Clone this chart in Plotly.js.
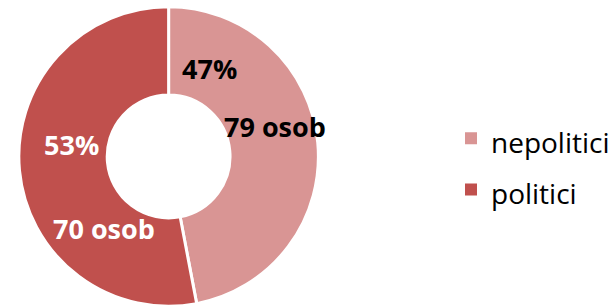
<!DOCTYPE html>
<html><head><meta charset="utf-8">
<script src="https://cdn.plot.ly/plotly-3.0.1.min.js"></script>
<style>html,body{margin:0;padding:0;background:#fff}#chart{width:615px;height:307px}</style>
</head><body><div id="chart"></div>
<script>
const categories = ["nepolitici", "politici"];
const percents = [47, 53];
const counts = [79, 70];
const colors = ["#D99594", "#C0504D"];
const labelColors = ["#000000", "#FFFFFF"];

// label anchor positions (px) for percent and count labels
const pctPos = [[211, 68], [72, 144]];
const cntPos = [[277, 127], [105, 228]];
const W = 615, H = 307;
const font = "'Open Sans', 'Noto Sans', sans-serif";

const annotations = [];
categories.forEach((c, i) => {
  annotations.push({x: pctPos[i][0] / W, y: 1 - pctPos[i][1] / H, xref: 'paper', yref: 'paper',
    xanchor: 'center', yanchor: 'middle',
    text: '<b>' + percents[i] + '%</b>', showarrow: false,
    font: {family: font, size: 27, color: labelColors[i]}});
  annotations.push({x: cntPos[i][0] / W, y: 1 - cntPos[i][1] / H, xref: 'paper', yref: 'paper',
    xanchor: 'center', yanchor: 'middle',
    text: '<b>' + counts[i] + ' osob</b>', showarrow: false,
    font: {family: font, size: 27, color: labelColors[i]}});
});

const legendLabels = categories.map(c => '<span style="font-size:28px">' + c + '</span>');
const dom = {x: [19 / W, 321 / W], y: [0, 301 / H]};

const donut = {
  type: 'pie',
  labels: legendLabels,
  values: percents,
  hole: 0.41,
  sort: false,
  direction: 'clockwise',
  rotation: 0,
  textinfo: 'none',
  marker: {colors: colors, line: {color: '#FFFFFF', width: 3}},
  domain: dom,
  hoverinfo: 'none',
  showlegend: false
};
// near-zero-size twin trace that only supplies borderless legend swatches
const legendTwin = {
  type: 'pie',
  labels: legendLabels,
  values: percents,
  sort: false,
  direction: 'clockwise',
  textinfo: 'none',
  marker: {colors: colors, line: {width: 0}},
  domain: {x: [0.99995, 1], y: [0, 0.0001]},
  hoverinfo: 'none',
  showlegend: true
};

const layout = {
  width: W, height: H,
  margin: {l: 0, r: 0, t: 0, b: 0},
  paper_bgcolor: '#FFFFFF',
  showlegend: true,
  legend: {x: 455 / W, xanchor: 'left', y: 0.465, yanchor: 'middle',
    font: {family: font, size: 37, color: '#000000'}, bgcolor: 'rgba(0,0,0,0)'},
  annotations: annotations
};

Plotly.newPlot('chart', [donut, legendTwin], layout, {displayModeBar: false, staticPlot: true});
</script>
</body></html>
